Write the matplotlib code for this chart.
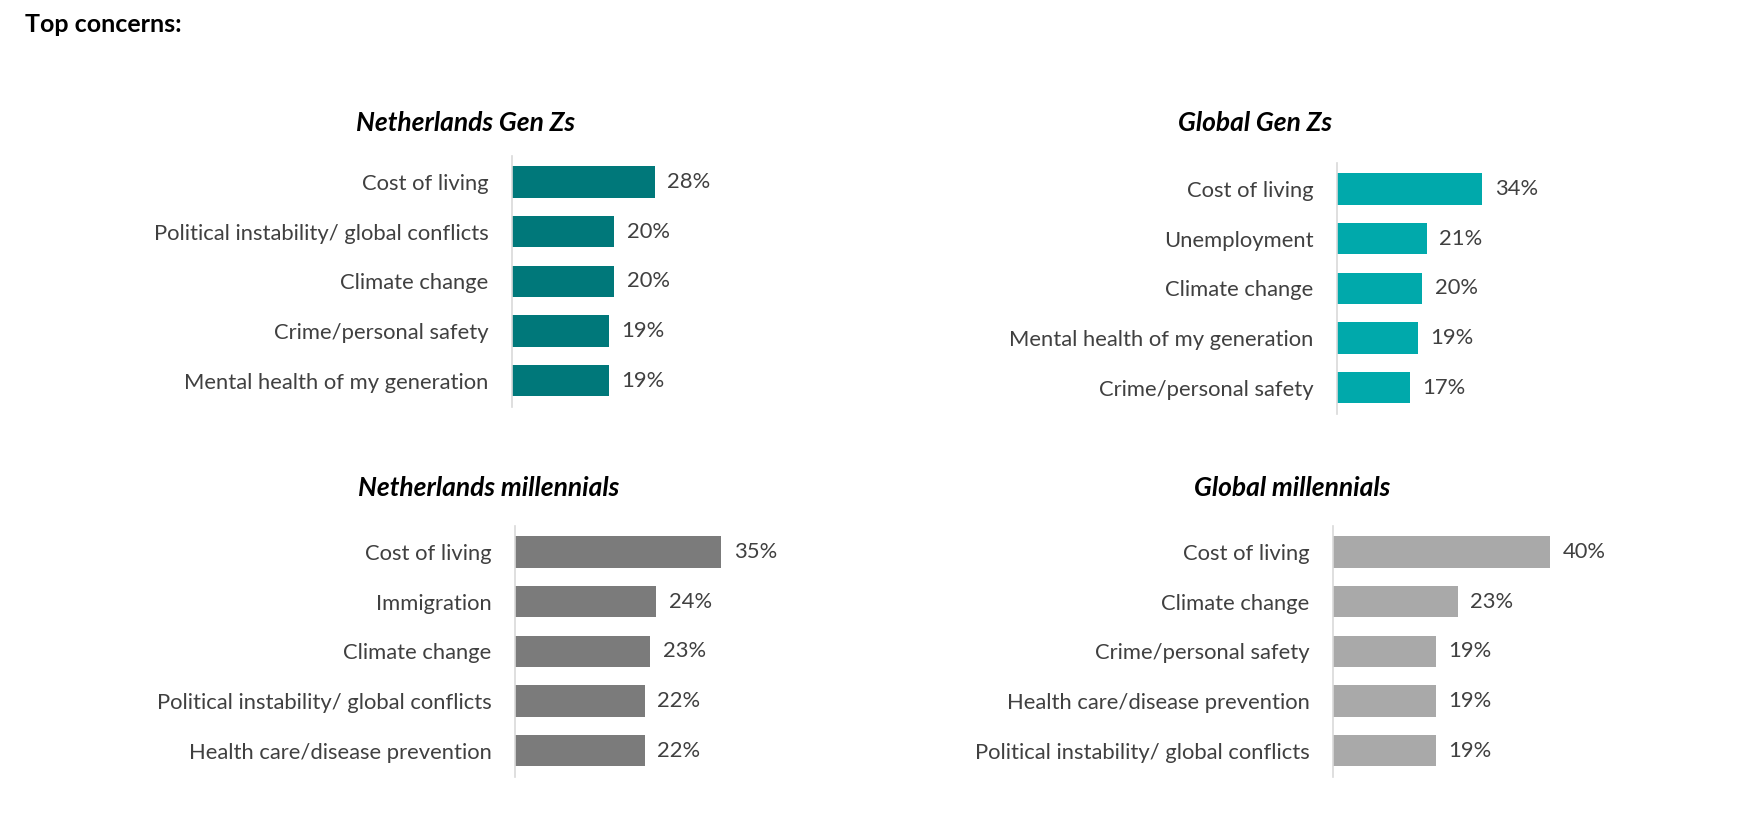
import matplotlib
matplotlib.use('Agg')
import matplotlib.pyplot as plt

plt.rcParams['font.family'] = ['Lato', 'DejaVu Sans']

# data
nl_genz_labels = ['Cost of living', 'Political instability/ global conflicts', 'Climate change',
                  'Crime/personal safety', 'Mental health of my generation']
nl_genz_values = [28, 20, 20, 19, 19]

gl_genz_labels = ['Cost of living', 'Unemployment', 'Climate change',
                  'Mental health of my generation', 'Crime/personal safety']
gl_genz_values = [34, 21, 20, 19, 17]

nl_mill_labels = ['Cost of living', 'Immigration', 'Climate change',
                  'Political instability/ global conflicts', 'Health care/disease prevention']
nl_mill_values = [35, 24, 23, 22, 22]

gl_mill_labels = ['Cost of living', 'Climate change', 'Crime/personal safety',
                  'Health care/disease prevention', 'Political instability/ global conflicts']
gl_mill_values = [40, 23, 19, 19, 19]

W, H = 1762, 823
fig = plt.figure(figsize=(W / 100, H / 100), dpi=100)

LABEL_FS = 15.8
TITLE_FS = 19
SP = 49.7  # row spacing in px


def panel(title, labels, values, color, axis_x, center0, ppp, title_x, title_y):
    top = center0 - 0.52 * SP
    h = 5.04 * SP
    w = 300
    ax = fig.add_axes([axis_x / W, 1 - (top + h) / H, w / W, h / H])
    ys = list(range(len(values)))
    ax.barh(ys, values, height=0.63, color=color)
    ax.set_ylim(4.52, -0.52)
    ax.set_xlim(0, w / ppp)
    ax.set_yticks(ys)
    ax.set_yticklabels(labels, fontsize=LABEL_FS, color='#404040')
    ax.tick_params(axis='y', length=0, pad=17)
    ax.set_xticks([])
    for s in ['top', 'right', 'bottom']:
        ax.spines[s].set_visible(False)
    ax.spines['left'].set_color('#D9D9D9')
    ax.spines['left'].set_linewidth(1.2)
    for y, v in zip(ys, values):
        ax.annotate(f'{v}%', (v, y), xytext=(9, 0), textcoords='offset points',
                    va='center', ha='left', fontsize=LABEL_FS, color='#404040')
    fig.text(title_x / W, 1 - title_y / H, title, fontsize=TITLE_FS, fontweight='bold',
             fontstyle='italic', ha='center', va='center', color='black')


panel('Netherlands Gen Zs', nl_genz_labels, nl_genz_values, '#00787A', 512, 182, 5.1, 466, 123)
panel('Global Gen Zs', gl_genz_labels, gl_genz_values, '#00A9AB', 1337, 189, 4.27, 1255, 123)
panel('Netherlands millennials', nl_mill_labels, nl_mill_values, '#7B7B7B', 515, 552, 5.89, 489, 488)
panel('Global millennials', gl_mill_labels, gl_mill_values, '#A9A9A9', 1333, 552, 5.43, 1292, 488)

fig.text(25 / W, 1 - 25 / H, 'Top concerns:', fontsize=18, fontweight='bold',
         ha='left', va='center', color='black')

fig.savefig('out.png', dpi=100, facecolor='white')
